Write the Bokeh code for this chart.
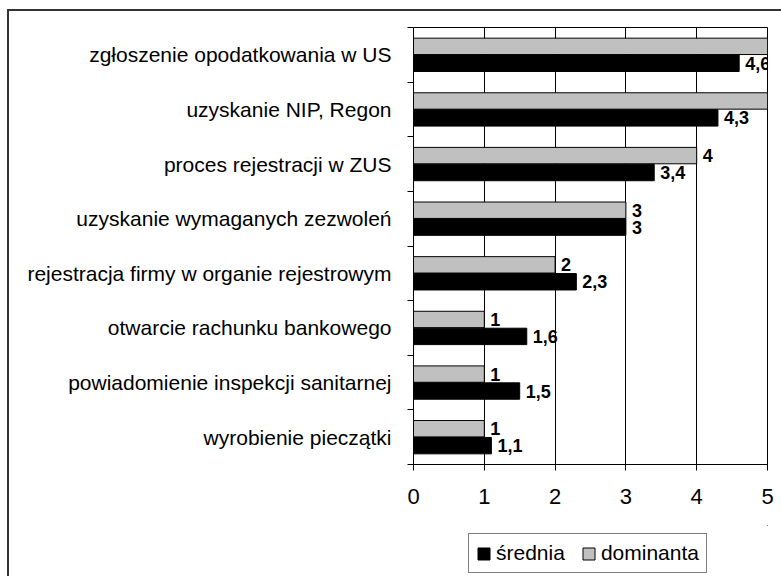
from bokeh.plotting import figure
from bokeh.layouts import column
from bokeh.models import (ColumnDataSource, FixedTicker, Range1d, LabelSet,
                          Legend, LegendItem)
from bokeh.core.properties import value
from bokeh.embed import file_html
from bokeh.resources import INLINE

# ---- data (top to bottom) ----
categories = [
    "zgłoszenie opodatkowania w US",
    "uzyskanie NIP, Regon",
    "proces rejestracji w ZUS",
    "uzyskanie wymaganych zezwoleń",
    "rejestracja firmy w organie rejestrowym",
    "otwarcie rachunku bankowego",
    "powiadomienie inspekcji sanitarnej",
    "wyrobienie pieczątki",
]
srednia = [4.6, 4.3, 3.4, 3.0, 2.3, 1.6, 1.5, 1.1]
dominanta = [5, 5, 4, 3, 2, 1, 1, 1]
x_ticks = [0, 1, 2, 3, 4, 5]
series_names = ["średnia", "dominanta"]
series_colors = ["black", "#c0c0c0"]

FONT = "Liberation Sans"


def fmt(v):
    v = float(v)
    return str(int(v)) if v.is_integer() else f"{v:.1f}".replace(".", ",")


n = len(categories)
centers = [i + 0.5 for i in range(n)]
off = 0.155
bh = 0.30

src_d = ColumnDataSource(dict(
    y=[c - off for c in centers], x=dominanta, lab=[fmt(v) for v in dominanta]))
src_s = ColumnDataSource(dict(
    y=[c + off for c in centers], x=srednia, lab=[fmt(v) for v in srednia]))

# page offset of the canvas (css margin + border)
OX, OY = 9, 11
W = 781 - OX
Y2 = 525                       # page y where the legend strip starts
H1 = Y2 - OY
H2 = 576 - Y2
FL, FR, FT, FB = 413 - OX, 767 - OX, 27 - OY, 464 - OY

p = figure(width=W, height=H1, output_backend="svg", toolbar_location=None,
           x_range=Range1d(0, 5), y_range=Range1d(n, 0),
           min_border_left=FL, min_border_right=W - FR, min_border_top=FT,
           min_border_bottom=H1 - FB)
p.background_fill_color = "white"
p.border_fill_color = "white"
p.outline_line_color = "black"
p.outline_line_width = 1

r_d = p.hbar(y="y", right="x", left=0, height=bh, source=src_d,
             fill_color=series_colors[1], line_color="black", line_width=1)
r_s = p.hbar(y="y", right="x", left=0, height=bh, source=src_s,
             fill_color=series_colors[0], line_color="black", line_width=1)

for src in (src_d, src_s):
    p.add_layout(LabelSet(x="x", y="y", text="lab", source=src,
                          x_offset=6, text_baseline="middle",
                          text_font=value(FONT), text_font_size=value("18px"),
                          text_font_style="bold", text_color="black"))

# grid
p.ygrid.visible = False
p.xgrid.ticker = FixedTicker(ticks=x_ticks)
p.xgrid.grid_line_color = "black"
p.xgrid.grid_line_alpha = 1.0
p.xgrid.grid_line_width = 1

# x axis
xa = p.xaxis[0]
xa.ticker = FixedTicker(ticks=x_ticks)
xa.axis_line_color = "black"
xa.major_tick_in = 0
xa.major_tick_out = 6
xa.major_tick_line_color = "black"
xa.minor_tick_line_color = None
xa.major_label_text_font = FONT
xa.major_label_text_font_size = "22px"
xa.major_label_text_color = "black"
xa.major_label_standoff = 18

# y axis
ya = p.yaxis[0]
ya.ticker = FixedTicker(ticks=centers, minor_ticks=list(range(n + 1)))
ya.major_label_overrides = {c: lab for c, lab in zip(centers, categories)}
ya.axis_line_color = "black"
ya.major_tick_in = 0
ya.major_tick_out = 0
ya.major_tick_line_color = None
ya.minor_tick_in = 0
ya.minor_tick_out = 6
ya.minor_tick_line_color = "black"
ya.major_label_text_font = FONT
ya.major_label_text_font_size = "21px"
ya.major_label_text_color = "black"
ya.major_label_standoff = 16

# ---- legend strip below the chart (same frame columns as the chart) ----
p2 = figure(width=W, height=H2, output_backend="svg", toolbar_location=None,
            x_axis_type=None, y_axis_type=None,
            x_range=Range1d(0, 1), y_range=Range1d(0, 1),
            min_border_left=FL, min_border_right=W - FR, min_border_top=0,
            min_border_bottom=0)
p2.outline_line_color = None
p2.outline_line_alpha = 0
p2.background_fill_color = "white"
p2.border_fill_color = "white"
p2.grid.visible = False
# legend-only renderers, placed fully outside the visible ranges
g_s = p2.hbar(y=[5], right=[3], left=2, height=0.1,
              fill_color=series_colors[0], line_color="black")
g_d = p2.hbar(y=[5], right=[3], left=2, height=0.1,
              fill_color=series_colors[1], line_color="black")
legend = Legend(items=[LegendItem(label=series_names[0], renderers=[g_s]),
                       LegendItem(label=series_names[1], renderers=[g_d])],
                orientation="horizontal", location=(468 - 413, 576 - 573),
                glyph_width=15, glyph_height=15, label_standoff=5, spacing=16,
                padding=7, margin=0,
                label_text_font=FONT, label_text_font_size="21px",
                label_text_color="black",
                border_line_color="black", border_line_width=1,
                background_fill_color="white", background_fill_alpha=1.0)
p2.add_layout(legend, "center")

layout = column(p, p2, spacing=0)
layout.styles = {"margin-left": "7px", "margin-top": "9px",
                 "border-left": "2px solid #333333",
                 "border-top": "2px solid #333333"}

open("out.html", "w").write(file_html(layout, INLINE))
